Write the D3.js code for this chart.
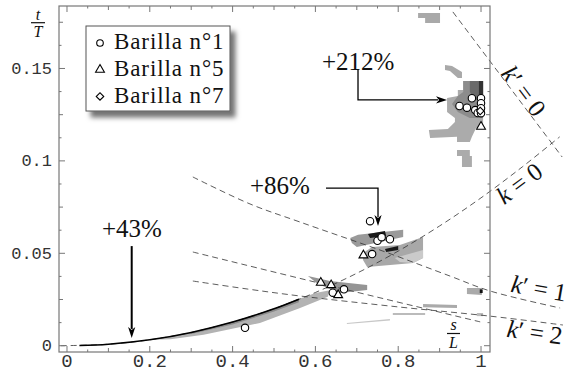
<!DOCTYPE html>
<html><head><meta charset="utf-8">
<script src="https://cdn.jsdelivr.net/npm/d3@7"></script>
<style>body{margin:0;background:#fff}</style>
</head><body>
<svg id="c" width="572" height="372"></svg>
<script>
// ---------- data ----------
const xTicks = [0, 0.2, 0.4, 0.6, 0.8, 1];
const xTickLabels = ["0", "0.2", "0.4", "0.6", "0.8", "1"];
const yTicks = [0, 0.05, 0.1, 0.15];
const yTickLabels = ["0", "0.05", "0.1", "0.15"];

// breaking points [s/L, t/T]
const barilla1 = [[0.430,0.0097],[0.642,0.0287],[0.669,0.0305],[0.732,0.0674],[0.750,0.0568],[0.760,0.0587],
  [0.780,0.0576],[0.737,0.0496],[0.948,0.1297],[0.978,0.1339],[0.966,0.1288],[0.986,0.1275],[0.992,0.1259],
  [1.0,0.1339],[1.0,0.1312],[1.0,0.1285],[1.0,0.1258]];
const barilla5 = [[0.613,0.0341],[0.638,0.0328],[0.655,0.0274],[0.716,0.0489],[1.0,0.1185]];
const barilla7 = [[0.998,0.1270]];
const legendNames = ["Barilla n°1", "Barilla n°5", "Barilla n°7"];

// theoretical curves
const curveK0 = [[-0.015,0],[0.1,0.0008],[0.2,0.0032],[0.3,0.0072],[0.4,0.0128],[0.5,0.02],[0.6,0.0288],
  [0.7,0.0392],[0.8,0.0512],[0.9,0.0648],[1.0,0.08],[1.1,0.0968],[1.19,0.113]];
const curveKp0 = [[0.932,0.1806],[1.196,0.1021]];
const curveKp1 = [[0.304,0.0913],[0.442,0.0767],[0.563,0.0669],[0.763,0.0512],[0.925,0.0377],[1.022,0.0296],[1.191,0.0204]];
const curveMid = [[0.304,0.0507],[0.618,0.0334],[0.998,0.0129]];
const curveKp2 = [[0.304,0.0350],[0.435,0.0307],[0.563,0.0269],[0.804,0.0209],[1.022,0.0160],[1.198,0.0112]];
const blackBand = [[0.03,0.00008],[0.1,0.0008],[0.2,0.0032],[0.3,0.0072],[0.4,0.0128],[0.5,0.02],[0.56,0.0252]];

// grey density patches (polygons in s/L, t/T)
const patchShades = ["#a9a9a9","#a9a9a9","#ababab","#8c8c8c","#6a6a6a","#333","#ababab",
  "#9a9a9a","#a8a8a8","#cacaca","#1a1a1a","#1a1a1a","#959595","#b3b3b3","#8a8a8a",
  "#aaa","#aaa","#111","#c8c8c8","#bbb","#bbb"];
const patchPolys = [
  [[0.848,0.1800],[0.901,0.1800],[0.901,0.1746],[0.865,0.1746],[0.865,0.1773],[0.848,0.1773]],
  [[0.913,0.1519],[0.930,0.1514],[0.954,0.1481],[0.954,0.1449],[0.944,0.1449],[0.925,0.1486],[0.913,0.1492]],
  [[0.957,0.1432],[1.005,0.1432],[1.005,0.1189],[0.988,0.1178],[0.978,0.1130],[0.973,0.1102],[0.942,0.1102],
   [0.942,0.1130],[0.877,0.1124],[0.874,0.1167],[0.920,0.1173],[0.937,0.1211],[0.937,0.1232],[0.918,0.1265],
   [0.918,0.1340],[0.944,0.1351],[0.944,0.1384],[0.957,0.1384]],
  [[0.957,0.1432],[1.005,0.1432],[1.005,0.1232],[0.973,0.1232],[0.944,0.1265],[0.930,0.1308],[0.944,0.1351],[0.957,0.1373]],
  [[0.973,0.1432],[1.005,0.1432],[1.005,0.1330],[0.986,0.1330],[0.973,0.1373]],
  [[0.995,0.1432],[1.005,0.1432],[1.005,0.1357],[0.995,0.1357]],
  [[0.942,0.1059],[0.973,0.1059],[0.973,0.1027],[0.978,0.1027],[0.978,0.0967],[0.954,0.0967],[0.954,0.1027],[0.942,0.1027]],
  [[0.684,0.0583],[0.703,0.0600],[0.812,0.0627],[0.812,0.0588],[0.756,0.0561],[0.700,0.0534],[0.688,0.0556]],
  [[0.715,0.0502],[0.737,0.0534],[0.804,0.0545],[0.860,0.0588],[0.860,0.0475],[0.836,0.0447],[0.725,0.0426],[0.715,0.0464]],
  [[0.792,0.0475],[0.860,0.0518],[0.860,0.0475],[0.836,0.0447],[0.804,0.0453]],
  [[0.727,0.0604],[0.768,0.0621],[0.771,0.0594],[0.732,0.0583]],
  [[0.768,0.0523],[0.800,0.0540],[0.800,0.0518],[0.771,0.0507]],
  [[0.582,0.0377],[0.635,0.0350],[0.725,0.0328],[0.725,0.0301],[0.659,0.0285],[0.606,0.0334]],
  [[0.2,0.0032],[0.3,0.0072],[0.4,0.0128],[0.5,0.02],[0.55,0.0245],[0.6,0.0285],[0.635,0.0300],[0.63,0.0265],
   [0.563,0.0204],[0.466,0.0123],[0.33,0.0060],[0.25,0.0035]],
  [[0.3,0.0072],[0.4,0.0128],[0.5,0.02],[0.56,0.0255],[0.56,0.0235],[0.5,0.0185],[0.4,0.0115],[0.3,0.0064]],
  [[0.860,0.0226],[0.942,0.0220],[0.942,0.0204],[0.860,0.0208]],
  [[0.966,0.0312],[1.002,0.0312],[1.002,0.0274],[0.966,0.0280]],
  [[0.997,0.0305],[1.004,0.0305],[1.004,0.0285],[0.997,0.0285]],
  [[0.676,0.0123],[0.78,0.0145],[0.78,0.0136],[0.676,0.0117]],
  [[0.787,0.0177],[0.865,0.0177],[0.865,0.0166],[0.787,0.0166]],
  [[0.99,0.0177],[1.005,0.0177],[1.005,0.0160],[0.99,0.0160]]
];

// annotations
const annoLabels = ["+43%", "+86%", "+212%"];
const annoTextPos = [[0.0845,0.0588],[0.442,0.0821],[0.616,0.1492]];
const annoPaths = [
  [[0.1563,0.0539],[0.1563,0.0042]],
  [[0.6256,0.0853],[0.7512,0.0853],[0.7512,0.0648]],
  [[0.7029,0.1496],[0.7029,0.1330],[0.9179,0.1330]]
];
const curveLabels = [["k","′ = 0"],["k"," = 0"],["k","′ = 1"],["k","′ = 2"]];
const curveLabelPos = [[1.104,0.1378],[1.092,0.0880],[1.14,0.0312],[1.130,0.0074]];
const curveLabelRot = [53, -37, 10, 8];

const SERIF = '"Liberation Serif", "Times New Roman", serif';
const MONO = '"Liberation Mono", "Courier New", monospace';

// ---------- chart ----------
const svg = d3.select("#c");
svg.append("rect").attr("width",572).attr("height",372).attr("fill","#fff");
const defs = svg.append("defs");
const f = defs.append("filter").attr("id","sh").attr("x","-20%").attr("y","-20%").attr("width","150%").attr("height","150%");
f.append("feDropShadow").attr("dx",5).attr("dy",6).attr("stdDeviation",2.6).attr("flood-color","#000").attr("flood-opacity",0.55);

const x = d3.scaleLinear().domain([-0.0193, 1.0217]).range([59, 490]);
const y = d3.scaleLinear().domain([-0.0034, 0.1838]).range([352, 6]);

// patches
svg.append("g").selectAll("path").data(patchPolys).join("path")
  .attr("d", p => "M" + p.map(d => x(d[0]) + "," + y(d[1])).join("L") + "Z")
  .attr("fill", (p,i) => patchShades[i]).attr("stroke","none");

const lineC = d3.line().x(d => x(d[0])).y(d => y(d[1])).curve(d3.curveCatmullRom);
[curveK0, curveKp0, curveKp1, curveMid, curveKp2].forEach(c => {
  svg.append("path").attr("d", lineC(c)).attr("fill","none")
    .attr("stroke","#333").attr("stroke-width",0.8).attr("stroke-dasharray","6,4");
});
svg.append("path").attr("d", lineC(blackBand)).attr("fill","none")
  .attr("stroke","#000").attr("stroke-width",1.6);

// frame & ticks
const frame = svg.append("g");
frame.append("rect").attr("x",59).attr("y",6).attr("width",431).attr("height",346)
  .attr("fill","none").attr("stroke","#777").attr("stroke-width",1.2);

function ticks(g, vals, orient, len) {
  g.selectAll(null).data(vals).enter().append("line")
    .attr("stroke","#777").attr("stroke-width",1)
    .each(function(v){
      const s = d3.select(this);
      if (orient === "b") s.attr("x1",x(v)).attr("x2",x(v)).attr("y1",352).attr("y2",352-len);
      if (orient === "t") s.attr("x1",x(v)).attr("x2",x(v)).attr("y1",6).attr("y2",6+len);
      if (orient === "l") s.attr("y1",y(v)).attr("y2",y(v)).attr("x1",59).attr("x2",59+len);
      if (orient === "r") s.attr("y1",y(v)).attr("y2",y(v)).attr("x1",490).attr("x2",490-len);
    });
}
const xMinor = d3.range(0, 1.0001, 0.05).filter(v => Math.abs(v*10 - Math.round(v*10)) > 0.01);
const xMid = d3.range(0.1, 1.0001, 0.2);
const yMinor = d3.range(0, 0.18, 0.0125).filter(v => Math.abs(v/0.025 - Math.round(v/0.025)) > 0.01);
const yMid = d3.range(0.025, 0.18, 0.05);
["b","t"].forEach(o => { ticks(frame, xTicks, o, 6); ticks(frame, xMid, o, 4); ticks(frame, xMinor, o, 2.5); });
["l","r"].forEach(o => { ticks(frame, yTicks, o, 6); ticks(frame, yMid, o, 4); ticks(frame, yMinor, o, 2.5); });

svg.append("g").selectAll("text").data(xTicks).join("text")
  .attr("x", d => x(d)).attr("y", 367).attr("text-anchor","middle")
  .style("font-family", MONO).attr("font-size",19).attr("fill","#333")
  .text((d,i) => xTickLabels[i]);
svg.append("g").selectAll("text").data(yTicks).join("text")
  .attr("x", 52).attr("y", d => y(d) + 5.3).attr("text-anchor","end")
  .style("font-family", MONO).attr("font-size",17).attr("fill","#333")
  .text((d,i) => yTickLabels[i]);

function frac(cx, numY, barY, denY, num, den, w) {
  const g = svg.append("g");
  g.append("text").attr("x",cx).attr("y",numY).attr("text-anchor","middle")
    .style("font-family", SERIF).style("font-style","italic").attr("font-size",16).attr("fill","#111").text(num);
  g.append("line").attr("x1",cx-w/2).attr("x2",cx+w/2).attr("y1",barY).attr("y2",barY).attr("stroke","#111").attr("stroke-width",1.2);
  g.append("text").attr("x",cx).attr("y",denY).attr("text-anchor","middle")
    .style("font-family", SERIF).style("font-style","italic").attr("font-size",16).attr("fill","#111").text(den);
}
frac(38, 20, 22.7, 37, "t", "T", 14);
frac(453.5, 330, 333.5, 348, "s", "L", 13);

// markers
const mk = svg.append("g");
mk.selectAll("circle").data(barilla1).join("circle")
  .attr("cx", d => x(d[0])).attr("cy", d => y(d[1])).attr("r", 3.7)
  .attr("fill","#fff").attr("stroke","#000").attr("stroke-width",1.1);
const tri = d3.symbol(d3.symbolTriangle, 34);
mk.selectAll("path.tr").data(barilla5).join("path").attr("class","tr")
  .attr("transform", d => `translate(${x(d[0])},${y(d[1])})`).attr("d", tri())
  .attr("fill","#fff").attr("stroke","#000").attr("stroke-width",1.1);
const dia = d3.symbol(d3.symbolSquare, 28);
mk.selectAll("path.di").data(barilla7).join("path").attr("class","di")
  .attr("transform", d => `translate(${x(d[0])},${y(d[1])}) rotate(45)`).attr("d", dia())
  .attr("fill","#fff").attr("stroke","#000").attr("stroke-width",1.1);

// annotations
const an = svg.append("g");
annoLabels.forEach((lab, i) => {
  an.append("text").attr("x", x(annoTextPos[i][0])).attr("y", y(annoTextPos[i][1]))
    .style("font-family", SERIF).attr("font-size",25).attr("fill","#111").text(lab);
  const pts = annoPaths[i].map(d => [x(d[0]), y(d[1])]);
  const n = pts.length, tip = pts[n-1], prev = pts[n-2];
  const dx = tip[0]-prev[0], dy = tip[1]-prev[1], L = Math.hypot(dx,dy), ux = dx/L, uy = dy/L;
  const back = [tip[0]-ux*9, tip[1]-uy*9];
  const linePts = pts.slice(0, n-1).concat([back]);
  an.append("path").attr("d", "M" + linePts.map(p => p.join(",")).join("L"))
    .attr("fill","none").attr("stroke","#000").attr("stroke-width", i === 0 ? 2 : 1.3);
  const px = -uy, py = ux, hw = 3.6;
  const head = [tip, [tip[0]-ux*11+px*hw, tip[1]-uy*11+py*hw], [tip[0]-ux*8, tip[1]-uy*8], [tip[0]-ux*11-px*hw, tip[1]-uy*11-py*hw]];
  an.append("path").attr("d","M" + head.map(p => p.join(",")).join("L") + "Z").attr("fill","#000");
});

// curve labels
curveLabels.forEach((lab, i) => {
  const t = svg.append("text").attr("text-anchor","middle")
    .attr("transform", `translate(${x(curveLabelPos[i][0])},${y(curveLabelPos[i][1])}) rotate(${curveLabelRot[i]})`)
    .attr("dy", "0.35em").style("font-family", SERIF).attr("font-size",25).attr("fill","#111");
  t.append("tspan").style("font-style","italic").text(lab[0]);
  t.append("tspan").text(lab[1]);
});

// legend
const lg = svg.append("g");
lg.append("rect").attr("x",86).attr("y",26).attr("width",144).attr("height",85)
  .attr("fill","#fff").attr("stroke","#555").attr("stroke-width",1).attr("filter","url(#sh)");
const rowsY = [49.3, 76, 102.7];
legendNames.forEach((nm, i) => {
  lg.append("text").attr("x",114).attr("y",rowsY[i]).style("font-family", SERIF).attr("font-size",23)
    .style("letter-spacing","0.9px").attr("fill","#111").text(nm);
  const cy = rowsY[i] - 6.3;
  if (i === 0) lg.append("circle").attr("cx",100).attr("cy",cy).attr("r",3.3).attr("fill","#fff").attr("stroke","#000").attr("stroke-width",1.1);
  if (i === 1) lg.append("path").attr("transform",`translate(100,${cy})`).attr("d",tri()).attr("fill","#fff").attr("stroke","#000").attr("stroke-width",1.1);
  if (i === 2) lg.append("path").attr("transform",`translate(100,${cy}) rotate(45)`).attr("d",dia()).attr("fill","#fff").attr("stroke","#000").attr("stroke-width",1.1);
});
</script>
</body></html>
